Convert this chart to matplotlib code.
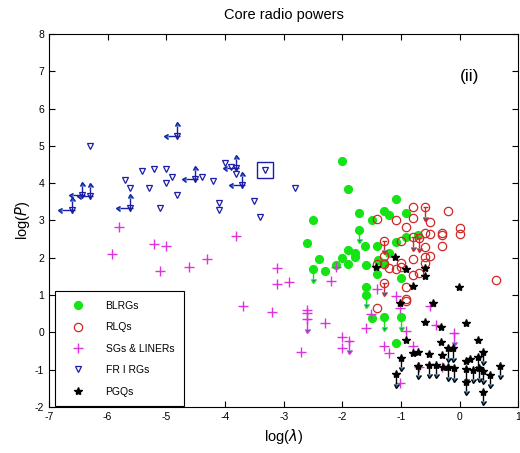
import matplotlib
matplotlib.use("Agg")
import matplotlib.pyplot as plt
from matplotlib.lines import Line2D
import numpy as np

plt.rcParams['font.family'] = ['Liberation Sans', 'DejaVu Sans']
plt.rcParams['axes.unicode_minus'] = False

# ---------------- data ----------------
blrg_x = [-2.00, -1.91, -1.09, -2.50, -1.71, -1.50, -1.29, -1.21, -0.91, -2.61, -1.91, -1.79, -1.79,
          -2.00, -1.91, -2.40, -2.29, -2.10, -1.61, -1.41, -1.40, -1.29, -1.60, -1.41, -1.09, -1.20,
          -1.00, -0.91, -0.71, -1.60, -1.50, -1.09]
blrg_y = [4.60, 3.84, 3.58, 3.01, 3.19, 3.01, 3.25, 3.15, 3.21, 2.39, 2.21, 2.12, 2.01,
          1.99, 1.83, 1.96, 1.65, 1.81, 2.32, 2.32, 1.94, 1.85, 1.81, 1.57, 2.42, 2.12,
          1.45, 2.55, 2.61, 1.21, 0.38, -0.28]
blrg_lim_x = [-1.71, -2.50, -1.60, -1.29, -1.00]
blrg_lim_y = [2.75, 1.69, 1.00, 0.40, 0.40]

rlq_x = [-0.80, -0.20, -1.41, -1.09, -0.80, -0.50, -0.91, -0.60, -0.50, -0.30, -0.30, 0.00, 0.00,
         -1.00, -0.60, -0.30, -0.50, -0.60, -0.60, -0.80, -1.29, -1.29, -1.21, -1.09, -1.00, -1.00,
         -0.80, -0.70, -0.91, 0.61, -0.91, -0.91, -1.41, -1.41]
rlq_y = [3.37, 3.25, 3.04, 3.00, 3.08, 2.97, 2.83, 2.67, 2.64, 2.67, 2.62, 2.79, 2.64,
         2.46, 2.28, 2.32, 2.05, 2.01, 1.87, 1.96, 2.05, 1.83, 1.72, 1.69, 1.85, 1.76,
         1.54, 1.60, 1.21, 1.40, 0.89, 0.85, 0.65, 1.83]
rlq_lim_x = [-0.60, -1.29, -0.80, -0.70, -1.29]
rlq_lim_y = [3.35, 2.46, 2.55, 2.52, 1.33]

sg_x = [-5.80, -5.92, -5.21, -5.01, -5.10, -4.61, -4.31, -3.82, -3.11, -3.11, -2.91, -3.70, -3.20,
        -2.61, -2.61, -2.70, -2.20, -2.29, -2.00, -2.00, -1.41, -1.51, -1.60, -1.09, -1.01, -0.91,
        -1.29, -1.21, -0.80, -0.50, -0.40, -0.30, -0.70, -1.01, -2.10]
sg_y = [2.82, 2.10, 2.36, 2.32, 1.65, 1.75, 1.97, 2.58, 1.72, 1.29, 1.34, 0.72, 0.56,
        0.60, 0.51, -0.52, 1.39, 0.24, -0.13, -0.43, 1.16, 0.49, 0.13, 0.98, 0.65, 0.04,
        -0.36, -0.56, -0.36, 0.71, 0.20, -0.94, -0.94, -1.35, 1.76]
sg_lim_x = [-2.61, -1.89, -0.10]
sg_lim_y = [0.35, -0.22, -0.02]

fri_x = [-6.30, -5.71, -5.62, -5.42, -5.21, -5.01, -5.30, -5.10, -4.91, -5.01, -4.81, -4.39, -4.21,
         -4.00, -3.89, -3.81, -4.11, -4.11, -3.51, -3.41, -3.31, -2.81]
fri_y = [5.00, 4.09, 3.87, 4.33, 4.38, 4.39, 3.87, 3.34, 4.17, 4.01, 3.68, 4.16, 4.07,
         4.53, 4.44, 4.25, 3.48, 3.28, 3.52, 3.10, 4.35, 3.87]
fri_lim_x = [-6.61, -6.43, -6.30, -5.62, -4.81, -4.51, -3.81, -3.71]
fri_lim_y = [3.28, 3.68, 3.66, 3.34, 5.27, 4.10, 4.40, 3.95]
boxed_x = [-3.31]
boxed_y = [4.35]

pgq_x = [-0.80, -0.02, -1.01, -0.45, -0.60, -0.32, 0.11, -0.91, -0.32, 0.31, -0.80, -0.71, -0.52,
         -0.31, 0.18, 0.11, -0.29, -1.10, -0.91, -0.60, -0.60, -1.43]
pgq_y = [1.24, 1.21, 0.80, 0.80, 0.29, 0.15, 0.24, -0.20, -0.25, -0.20, -0.54, -0.52, -0.58,
         -0.61, -0.72, -0.76, -0.94, 2.03, 1.70, 1.72, 1.51, 1.76]
pgq_lim_x = [-0.20, -0.11, -1.00, 0.39, 0.31, -0.71, -0.52, -0.40, -0.20, -0.09, 0.11, 0.22, 0.32,
             0.40, 0.51, 0.69, -1.09, 0.11, 0.39]
pgq_lim_y = [-0.43, -0.43, -0.69, -0.52, -0.65, -0.90, -0.87, -0.87, -0.94, -0.96, -0.99, -1.01, -0.96,
             -1.03, -1.14, -0.90, -1.12, -1.32, -1.59]

labels = ['BLRGs', 'RLQs', 'SGs & LINERs', 'FR I RGs', 'PGQs']
c_green = '#14e414'
c_red = '#d02828'
c_mag = '#dd33dd'
c_blue = '#1c1caa'
c_black = '#000000'

# ---------------- figure ----------------
fig = plt.figure(figsize=(5.2, 4.53), dpi=100)
ax = fig.add_axes([0.094, 0.1015, 0.903, 0.8235])

ylen = 0.25
cap = 1.8
# BLRG
ax.errorbar(blrg_lim_x, blrg_lim_y, yerr=ylen, uplims=True, fmt='none', ecolor=c_green,
            elinewidth=1.0, capsize=cap)
ax.plot(blrg_x + blrg_lim_x, blrg_y + blrg_lim_y, 'o', color=c_green, ms=5.6, mec=c_green, ls='none')
# RLQ
ax.errorbar(rlq_lim_x, rlq_lim_y, yerr=ylen, uplims=True, fmt='none', ecolor=c_red,
            elinewidth=1.0, capsize=cap)
ax.plot(rlq_x + rlq_lim_x, rlq_y + rlq_lim_y, 'o', mfc='none', mec=c_red, ms=6.0, mew=0.9, ls='none')
# SG
ax.errorbar(sg_lim_x, sg_lim_y, yerr=ylen, uplims=True, fmt='none', ecolor=c_mag,
            elinewidth=1.0, capsize=cap)
ax.plot(sg_x + sg_lim_x, sg_y + sg_lim_y, '+', color=c_mag, ms=7, mew=1.0, ls='none')
# FRI
ax.errorbar(fri_lim_x, fri_lim_y, xerr=0.16, yerr=0.25, xuplims=True, lolims=True, fmt='none',
            ecolor=c_blue, elinewidth=1.0, capsize=cap)
ax.plot(fri_x + fri_lim_x, fri_y + fri_lim_y, 'v', mfc='none', mec=c_blue, ms=4.8, mew=0.9, ls='none')
ax.plot(boxed_x, boxed_y, 's', mfc='none', mec=c_blue, ms=11, mew=1.0, ls='none')
# PGQ
ax.errorbar(pgq_lim_x, pgq_lim_y, yerr=ylen, uplims=True, fmt='none', ecolor=c_black,
            elinewidth=1.0, capsize=cap)
ax.plot(pgq_x + pgq_lim_x, pgq_y + pgq_lim_y, '*', color=c_black, ms=6, ls='none')

ax.set_xlim(-7, 1)
ax.set_ylim(-2, 8)
ax.set_xticks(np.arange(-7, 2, 1))
ax.set_yticks(np.arange(-2, 9, 1))
ax.tick_params(direction='in', top=True, right=True, labelsize=7.5, length=4, width=0.8)
for s in ax.spines.values():
    s.set_linewidth(0.8)

ax.set_title('Core radio powers', fontsize=10.5, pad=11)
ax.set_xlabel(r'log($\lambda$)', fontsize=10.5, labelpad=4)
ax.set_ylabel(r'log($P$)', fontsize=10.5, labelpad=2)
ax.text(0.895, 0.885, '(ii)', transform=ax.transAxes, fontsize=12.5, ha='center', va='center')

handles = [
    Line2D([], [], marker='o', ls='none', color=c_green, ms=5.6),
    Line2D([], [], marker='o', ls='none', mfc='none', mec=c_red, ms=6.0, mew=0.9),
    Line2D([], [], marker='+', ls='none', color=c_mag, ms=7, mew=1.0),
    Line2D([], [], marker='v', ls='none', mfc='none', mec=c_blue, ms=4.8, mew=0.9),
    Line2D([], [], marker='*', ls='none', color=c_black, ms=6),
]
leg = ax.legend(handles, labels, loc='lower left', bbox_to_anchor=(0.012, 0.003), borderaxespad=0,
                fontsize=7.5, labelspacing=1.1, handlelength=2.8, handletextpad=1.2,
                borderpad=0.9, fancybox=False, framealpha=1, edgecolor='black')
leg.get_frame().set_linewidth(0.8)

fig.savefig('out.png', dpi=100)
